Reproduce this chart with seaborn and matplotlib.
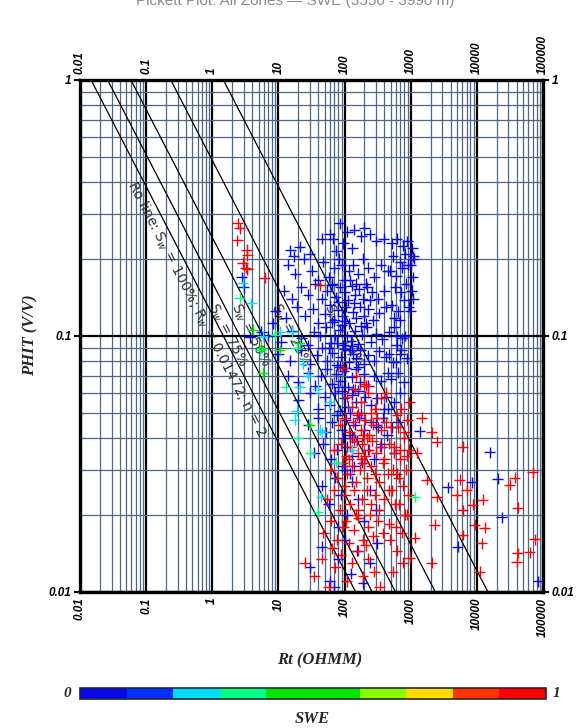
import numpy as np
import pandas as pd
import matplotlib
matplotlib.use("Agg")
import matplotlib.pyplot as plt
import matplotlib.colors as mcolors
from matplotlib.cm import ScalarMappable
from matplotlib.ticker import LogLocator, NullFormatter
import seaborn as sns

# ── Pickett plot parameters ──────────────────────────────────
rw = 0.01472
m_exp = 2
n_exp = 2
sw_levels = [1.0, 0.75, 0.50, 0.25, 0.10]
sw_texts = ["Ro line: S$_w$ = 100%; R$_w$ = 0.01472; n = 2",
            "S$_w$ = 75%", "S$_w$ = 50%", "S$_w$ = 25%", "S$_w$ = 10%"]
label_phit = [0.42, 0.14, 0.14, 0.14, 0.14]

x_ticks = [0.01, 0.1, 1, 10, 100, 1000, 10000, 100000]
x_tick_labels = ["0.01", "0.1", "1", "10", "100", "1000", "10000", "100000"]
y_ticks = [0.01, 0.1, 1]
y_tick_labels = ["0.01", "0.1", "1"]

swe_bounds = [0, 0.1, 0.2, 0.3, 0.4, 0.5, 0.6, 0.7, 0.8, 0.9, 1.0]
swe_colors = ["#0808EE", "#0030FF", "#00DDFF", "#00FF88", "#00E600",
              "#00E600", "#88FF00", "#FFDD00", "#FF3300", "#FF0000"]

# ── Points (Rt in ohmm, PHIT in v/v) ─────────────────────────
rt_blue = [15, 21, 17, 30, 45, 66, 85, 110, 140, 95, 180, 240, 300, 75, 130, 390, 520, 1050, 1100, 60, 200,
           14, 18, 24, 32, 48, 58, 70, 82, 98, 115, 135, 160, 190, 230, 280, 350, 450, 1000, 1080, 1120, 65, 120, 210, 40, 90, 2.8,
           12, 16, 22, 28, 36, 45, 55, 64, 74, 86, 100, 112, 128, 145, 165, 190, 220, 260, 320, 400, 1030, 1090, 80, 150, 240, 3.0,
           9, 13, 19, 25, 33, 40, 50, 60, 70, 80, 92, 105, 118, 132, 150, 170, 195, 230, 270, 330, 420, 560, 65, 100, 140, 210, 980, 8.2,
           7, 11, 16, 22, 28, 35, 42, 52, 62, 72, 84, 96, 110, 125, 142, 160, 185, 215, 250, 300, 370, 470, 620, 58, 78, 90, 130, 175, 3.7, 5.5,
           10, 15, 22, 30, 38, 46, 55, 65, 76, 88, 100, 115, 132, 150, 172, 198, 230, 275, 330, 420, 540, 700, 84, 120, 160,
           14, 20, 28, 36, 44, 54, 64, 75, 86, 98, 112, 128, 148, 170, 196, 230, 280, 350, 450, 80, 105, 135,
           20, 30, 40, 50, 60, 72, 85, 98, 112, 130, 150, 175, 205, 250, 310, 400, 90, 120, 160,
           28, 40, 52, 64, 76, 90, 105, 122, 142, 168, 200, 250, 320, 95, 130,
           35, 48, 62, 76, 92, 110, 130, 155, 185, 225, 280, 360, 1370, 15600, 100, 140,
           45, 58, 72, 88, 108, 130, 160, 195, 240, 300, 3620, 8340, 20600, 23700, 120, 80,
           30, 45, 60, 80, 100, 125, 155, 190, 240, 310, 5130, 85000, 70,
           # right-hand edge of the blue cloud
           620, 760, 880, 540, 690, 830, 480, 600, 740, 900, 580, 710, 850, 520, 650, 800, 940, 560, 680, 820,
           610, 750, 470, 590, 720, 870, 500, 640, 780, 430, 560, 700, 380, 460, 520, 640, 360, 440, 560, 300]
phit_blue = [0.216, 0.223, 0.205, 0.21, 0.24, 0.24, 0.276, 0.255, 0.26, 0.23, 0.245, 0.25, 0.235, 0.215, 0.22, 0.24, 0.23, 0.22, 0.205, 0.25, 0.265,
             0.19, 0.175, 0.2, 0.18, 0.195, 0.17, 0.185, 0.2, 0.165, 0.18, 0.19, 0.175, 0.2, 0.185, 0.17, 0.19, 0.18, 0.19, 0.17, 0.2, 0.16, 0.165, 0.16, 0.165, 0.19, 0.17,
             0.15, 0.14, 0.155, 0.145, 0.16, 0.14, 0.15, 0.158, 0.142, 0.155, 0.148, 0.138, 0.157, 0.145, 0.152, 0.14, 0.155, 0.148, 0.14, 0.15, 0.15, 0.14, 0.136, 0.16, 0.138, 0.155,
             0.125, 0.118, 0.13, 0.12, 0.128, 0.112, 0.122, 0.132, 0.115, 0.126, 0.12, 0.13, 0.112, 0.124, 0.118, 0.13, 0.12, 0.127, 0.115, 0.123, 0.13, 0.118, 0.113, 0.114, 0.134, 0.112, 0.125, 0.112,
             0.1, 0.095, 0.105, 0.098, 0.092, 0.104, 0.1, 0.108, 0.094, 0.1, 0.106, 0.092, 0.1, 0.096, 0.105, 0.093, 0.101, 0.108, 0.095, 0.102, 0.097, 0.104, 0.1, 0.09, 0.094, 0.11, 0.091, 0.109, 0.099, 0.104,
             0.085, 0.08, 0.088, 0.078, 0.084, 0.09, 0.08, 0.086, 0.077, 0.083, 0.089, 0.079, 0.085, 0.082, 0.088, 0.078, 0.084, 0.08, 0.087, 0.083, 0.079, 0.085, 0.076, 0.088, 0.076,
             0.07, 0.066, 0.072, 0.064, 0.07, 0.074, 0.065, 0.071, 0.067, 0.073, 0.063, 0.069, 0.074, 0.066, 0.071, 0.064, 0.07, 0.067, 0.072, 0.063, 0.075, 0.062,
             0.056, 0.06, 0.052, 0.058, 0.054, 0.06, 0.051, 0.057, 0.053, 0.059, 0.055, 0.05, 0.058, 0.054, 0.057, 0.052, 0.061, 0.05, 0.061,
             0.045, 0.048, 0.042, 0.046, 0.049, 0.043, 0.047, 0.041, 0.045, 0.048, 0.043, 0.046, 0.044, 0.04, 0.04,
             0.035, 0.038, 0.033, 0.036, 0.031, 0.037, 0.034, 0.039, 0.032, 0.036, 0.033, 0.037, 0.0424, 0.0352, 0.03, 0.031,
             0.026, 0.022, 0.028, 0.024, 0.02, 0.027, 0.023, 0.019, 0.025, 0.021, 0.0256, 0.0268, 0.0277, 0.0196, 0.029, 0.018,
             0.0125, 0.015, 0.011, 0.0135, 0.016, 0.0118, 0.0145, 0.0108, 0.013, 0.0155, 0.015, 0.011, 0.0105,
             0.24, 0.225, 0.235, 0.205, 0.195, 0.21, 0.18, 0.172, 0.185, 0.19, 0.155, 0.148, 0.16, 0.132, 0.125, 0.138, 0.13, 0.108, 0.115, 0.1,
             0.092, 0.098, 0.085, 0.079, 0.088, 0.082, 0.068, 0.072, 0.066, 0.058, 0.055, 0.06, 0.048, 0.052, 0.044, 0.046, 0.038, 0.041, 0.035, 0.045]

rt_red = [2.44, 2.6, 2.4, 3.3, 3.4, 2.9, 3.2, 3.4, 6.2, 42, 150, 95, 200,
          110, 145, 180, 230, 290, 360, 160, 210, 130, 420, 950,
          85, 100, 118, 135, 155, 178, 205, 235, 270, 310, 360, 420, 500, 620, 800, 1470, 140, 190, 250,
          70, 88, 105, 122, 140, 160, 182, 205, 232, 262, 300, 345, 400, 470, 560, 680, 870, 2070, 2470, 6100, 1230, 115, 215,
          62, 78, 94, 110, 128, 148, 170, 195, 222, 255, 292, 335, 385, 450, 540, 660, 100, 180, 31300, 37200, 69600, 5500, 1750,
          55, 70, 86, 102, 120, 140, 162, 186, 215, 248, 285, 330, 390, 470, 580, 2470, 4950, 7000, 8650, 12200, 6100, 41300, 870, 150, 240,
          48, 62, 78, 95, 115, 138, 162, 192, 228, 270, 320, 385, 470, 2300, 9300, 13100, 11800, 6100, 74700, 1150, 105, 210,
          35, 45, 58, 72, 88, 108, 130, 158, 190, 230, 280, 340, 11000, 62800, 41300, 39900, 2070, 966, 65, 25,
          # right edge of the red cluster
          720, 880, 640, 780, 940, 560, 700, 860, 610, 760, 920, 520, 660, 820, 590, 730, 480, 620, 760, 540]
phit_red = [0.276, 0.264, 0.237, 0.217, 0.207, 0.193, 0.185, 0.182, 0.169, 0.158, 0.07, 0.075, 0.065,
            0.058, 0.062, 0.055, 0.06, 0.052, 0.057, 0.05, 0.064, 0.053, 0.06, 0.055,
            0.045, 0.048, 0.042, 0.046, 0.049, 0.043, 0.047, 0.041, 0.045, 0.048, 0.043, 0.046, 0.044, 0.049, 0.042, 0.048, 0.04, 0.041, 0.05,
            0.036, 0.038, 0.034, 0.037, 0.039, 0.035, 0.038, 0.034, 0.036, 0.039, 0.035, 0.037, 0.033, 0.038, 0.035, 0.036, 0.034, 0.042, 0.0386, 0.037, 0.035, 0.033, 0.04,
            0.03, 0.028, 0.032, 0.029, 0.031, 0.027, 0.03, 0.032, 0.028, 0.031, 0.029, 0.027, 0.032, 0.029, 0.03, 0.028, 0.026, 0.033, 0.0262, 0.0279, 0.0294, 0.0274, 0.0274,
            0.023, 0.025, 0.021, 0.024, 0.022, 0.025, 0.021, 0.023, 0.025, 0.022, 0.024, 0.021, 0.023, 0.025, 0.022, 0.0235, 0.0239, 0.0251, 0.0219, 0.0229, 0.0209, 0.0213, 0.020, 0.02, 0.02,
            0.017, 0.019, 0.016, 0.018, 0.0155, 0.0175, 0.0195, 0.016, 0.018, 0.0165, 0.019, 0.017, 0.0185, 0.0183, 0.0183, 0.0178, 0.0155, 0.0167, 0.0161, 0.0163, 0.019, 0.0152,
            0.0115, 0.0135, 0.0105, 0.0125, 0.014, 0.011, 0.013, 0.0145, 0.0115, 0.0135, 0.012, 0.0105, 0.012, 0.0143, 0.0142, 0.0131, 0.013, 0.0136, 0.0148, 0.013,
            0.052, 0.047, 0.044, 0.04, 0.036, 0.037, 0.033, 0.03, 0.029, 0.026, 0.024, 0.025, 0.022, 0.02, 0.018, 0.017, 0.016, 0.0145, 0.013, 0.012]

rt_cyan = [2.9, 3.9, 10.5, 16, 23.5, 21, 39, 5.8, 19, 17.7, 42, 46, 130, 44, 60, 28]
phit_cyan = [0.161, 0.134, 0.104, 0.104, 0.078, 0.063, 0.062, 0.1, 0.051, 0.047, 0.043, 0.042, 0.036, 0.0235, 0.055, 0.07]
rt_spring = [2.6, 8.9, 19, 13, 19.7, 30, 75, 39, 1150, 5.3]
phit_spring = [0.141, 0.101, 0.09, 0.063, 0.04, 0.035, 0.032, 0.0205, 0.0235, 0.088]
rt_green = [4.1, 10.5, 5.8, 21, 30, 5.5]
phit_green = [0.106, 0.088, 0.072, 0.094, 0.045, 0.09]

# SWE class of each group
swe_blue, swe_red, swe_cyan, swe_spring, swe_green = 0.05, 0.95, 0.25, 0.35, 0.45

df = pd.concat([
    pd.DataFrame({"rt": rt_blue, "phit": phit_blue, "swe": swe_blue}),
    pd.DataFrame({"rt": rt_red, "phit": phit_red, "swe": swe_red}),
    pd.DataFrame({"rt": rt_cyan, "phit": phit_cyan, "swe": swe_cyan}),
    pd.DataFrame({"rt": rt_spring, "phit": phit_spring, "swe": swe_spring}),
    pd.DataFrame({"rt": rt_green, "phit": phit_green, "swe": swe_green}),
], ignore_index=True)

# ── Style ─────────────────────────────────────────────────────
sns.set_theme(style="white")
plt.rcParams["font.family"] = ["Liberation Sans", "DejaVu Sans"]

cmap = mcolors.ListedColormap(swe_colors)
norm = mcolors.BoundaryNorm(swe_bounds, cmap.N)

fig = plt.figure(figsize=(5.79, 7.28), dpi=100)
ax = fig.add_axes([80 / 579, 136 / 728, 463 / 579, 512 / 728])
ax.set_xscale("log")
ax.set_yscale("log")
ax.set_xlim(0.01, 100000)
ax.set_ylim(0.01, 1)

# grid
ax.xaxis.set_minor_locator(LogLocator(base=10, subs=np.arange(2, 10), numticks=20))
ax.yaxis.set_minor_locator(LogLocator(base=10, subs=np.arange(2, 10), numticks=20))
ax.xaxis.set_minor_formatter(NullFormatter())
ax.yaxis.set_minor_formatter(NullFormatter())
ax.grid(True, which="minor", color="#4d6684", lw=0.9)
ax.grid(True, which="major", color="black", lw=1.6)
ax.set_axisbelow(True)
for sp in ax.spines.values():
    sp.set_linewidth(2.4)
    sp.set_color("black")

# Sw lines
phi_line = np.logspace(-2.2, 0.1, 60)
for sw in sw_levels:
    rt_line = rw / (phi_line ** m_exp * sw ** n_exp)
    sns.lineplot(x=rt_line, y=phi_line, color="black", lw=0.9, sort=False,
                 estimator=None, ax=ax)

# line labels along the lines
p1 = ax.transData.transform((rw / 0.5 ** m_exp, 0.5))
p2 = ax.transData.transform((rw / 0.05 ** m_exp, 0.05))
angle = np.degrees(np.arctan2(p2[1] - p1[1], p2[0] - p1[0]))
for sw, txt, ph in zip(sw_levels, sw_texts, label_phit):
    rt_lab = rw / (ph ** m_exp * sw ** n_exp)
    ax.annotate(txt, xy=(rt_lab, ph), xytext=(-1.5, -1), textcoords="offset points",
                rotation=angle, rotation_mode="anchor", ha="left", va="top",
                fontsize=10, color="#303030", family=["DejaVu Sans"])

# scatter
sns.scatterplot(data=df, x="rt", y="phit", hue="swe", palette=cmap, hue_norm=norm,
                marker="+", s=62, linewidth=1.0, legend=False, ax=ax, zorder=3)

ax.set_xlabel("")
ax.set_ylabel("")
ax.set_xticks(x_ticks, x_tick_labels)
ax.set_yticks(y_ticks, y_tick_labels)
ax.tick_params(axis="x", which="both", length=0, top=True, labeltop=True,
               bottom=True, labelbottom=True, labelrotation=90, pad=4)
ax.tick_params(axis="y", which="major", length=4, width=1.5, left=True, right=True,
               labelleft=True, labelright=True, direction="out", pad=2, color="black")
ax.tick_params(axis="y", which="minor", length=0)
for t in ax.xaxis.get_major_ticks() + ax.yaxis.get_major_ticks():
    for lbl in (t.label1, t.label2):
        lbl.set_fontsize(8.5)
        lbl.set_fontstyle("italic")
        lbl.set_fontweight("bold")
        lbl.set_color("black")

serif = ["Liberation Serif", "DejaVu Serif"]
fig.text(30 / 579, 1 - 335 / 728, "PHIT (V/V)", rotation=90, ha="center", va="center",
         fontsize=12, style="italic", weight="bold", family=serif)
fig.text(320 / 579, 1 - 660 / 728, "Rt (OHMM)", ha="center", va="center",
         fontsize=12, style="italic", weight="bold", family=serif)
fig.text(0.51, 0.999, "Pickett Plot: All Zones \u2014 SWE (3550 - 3990 m)", ha="center",
         va="center", fontsize=11, color="#8a8a8a")

# colour bar
cax = fig.add_axes([80 / 579, 29 / 728, 466 / 579, 11 / 728])
cb = fig.colorbar(ScalarMappable(norm=norm, cmap=cmap), cax=cax, orientation="horizontal")
cb.set_ticks([])
cb.minorticks_off()
cax.tick_params(which="both", length=0, labelbottom=False)
cb.outline.set_linewidth(1.2)
cax.text(-0.02, 0.5, "0", transform=cax.transAxes, ha="right", va="center",
         fontsize=11, style="italic", weight="bold", family=serif)
cax.text(1.015, 0.5, "1", transform=cax.transAxes, ha="left", va="center",
         fontsize=11, style="italic", weight="bold", family=serif)
fig.text(312 / 579, 1 - 719 / 728, "SWE", ha="center", va="center",
         fontsize=12, style="italic", weight="bold", family=serif)

fig.savefig("out.png", dpi=100)
